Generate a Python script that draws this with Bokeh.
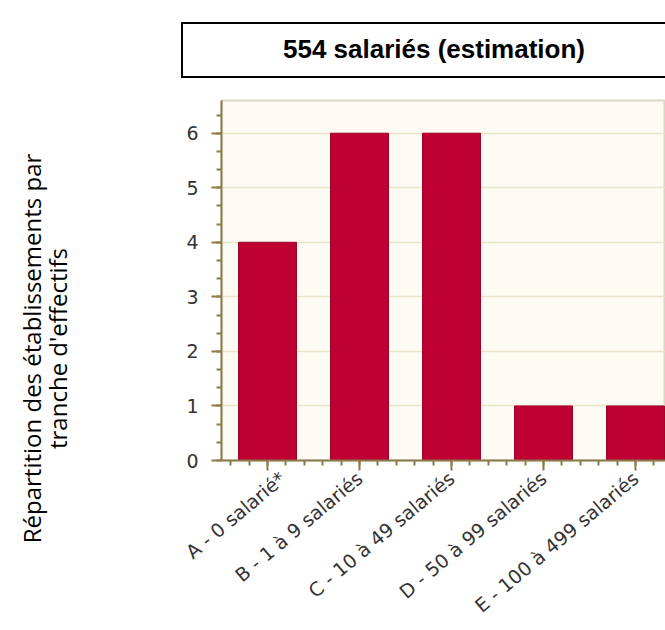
from bokeh.plotting import figure
from bokeh.models import Div, FixedTicker, SingleIntervalTicker, Range1d
from bokeh.layouts import row, column
from bokeh.embed import file_html
from bokeh.resources import INLINE
from bokeh.core.properties import value
import math

# ---- data ----
categories = ["A - 0 salarié*", "B - 1 à 9 salariés", "C - 10 à 49 salariés",
              "D - 50 à 99 salariés", "E - 100 à 499 salariés"]
counts = [4, 6, 6, 1, 1]
title_text = "554 salariés (estimation)"
ylabel_lines = ["Répartition des établissements par", "tranche d'effectifs"]

positions = [i + 0.5 for i in range(len(categories))]

# ---- y label panel ----
LW, LH = 181, 626
lab = figure(width=LW, height=LH, output_backend="svg", toolbar_location=None,
             x_range=Range1d(0, LW), y_range=Range1d(LH, 0),
             min_border=0)
lab.axis.visible = False
lab.grid.visible = False
lab.outline_line_color = None
lab.background_fill_color = "white"
lab.text(x=[31, 57], y=[348, 348], text=ylabel_lines, angle=math.pi / 2,
         text_align="center", text_baseline="middle",
         text_font=value("Open Sans"), text_font_size="24px", text_color="#000000")

# ---- title box ----
title_div = Div(
    text=('<div style="width:484px;height:56px;border:2px solid #000;border-right:none;'
          'box-sizing:border-box;display:flex;align-items:center;justify-content:center;'
          'padding-left:20px;font-family:\'Liberation Sans\',Arial,sans-serif;font-weight:bold;'
          'font-size:26px;color:#000;">' + title_text + '</div>'),
    width=484, height=56, margin=(22, 0, 0, 0))

# ---- main chart ----
p = figure(width=484, height=550, output_backend="svg", toolbar_location=None,
           x_range=Range1d(0, 444 / 92), y_range=Range1d(0, 6.6),
           min_border_left=40, min_border_right=0, min_border_top=22, min_border_bottom=0)
p.background_fill_color = "#FDFBF4"
p.border_fill_color = "white"
p.outline_line_color = "#DCD6C4"
p.outline_line_width = 2

p.vbar(x=positions, top=counts, width=0.63, bottom=0,
       fill_color="#BE0032", line_color="#9C0029", line_width=1)

minor_x = [0.1 + 0.2 * k for k in range(25)]
p.xaxis.ticker = FixedTicker(ticks=positions, minor_ticks=minor_x)
p.xaxis.major_label_overrides = {pos: cat for pos, cat in zip(positions, categories)}
p.xaxis.major_label_orientation = 40 * math.pi / 180
p.yaxis.ticker = SingleIntervalTicker(interval=1, num_minor_ticks=3)

axis_col = "#8C7A4A"
for ax in (p.xaxis, p.yaxis):
    ax.axis_line_color = axis_col
    ax.axis_line_width = 2
    ax.major_tick_line_color = axis_col
    ax.minor_tick_line_color = axis_col
    ax.major_tick_line_width = 2
    ax.minor_tick_line_width = 2
    ax.major_tick_out = 10
    ax.major_tick_in = 0
    ax.minor_tick_out = 5
    ax.minor_tick_in = 0
    ax.major_label_text_font = "DejaVu Sans"
    ax.major_label_text_color = "#333333"
p.xaxis.major_label_text_font_size = "19px"
p.yaxis.major_label_text_font_size = "19px"
p.xaxis.major_label_standoff = 5
p.yaxis.major_label_standoff = 13

p.xgrid.grid_line_color = None
p.ygrid.grid_line_color = "#EBE2C8"
p.ygrid.grid_line_width = 1.5

layout = row(lab, column(title_div, p))
open("out.html", "w").write(file_html(layout, INLINE))
